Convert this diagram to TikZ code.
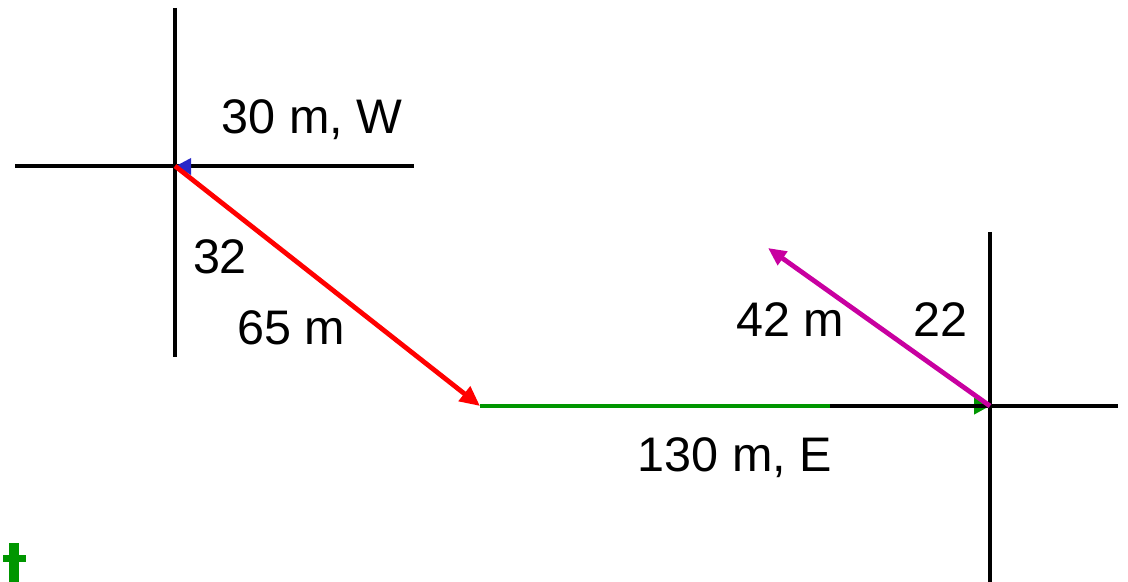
\documentclass[tikz,border=0pt]{standalone}
\usepackage{fontspec}
\setmainfont{Liberation Sans}
\usetikzlibrary{arrows.meta}
\definecolor{myred}{RGB}{255,0,0}
\definecolor{mygreen}{RGB}{0,150,0}
\definecolor{mymag}{RGB}{200,0,160}
\definecolor{myblue}{RGB}{40,40,200}
\tikzset{
  axis/.style={line width=0.12cm, black},
  vec/.style={line width=0.12cm},
  lbl/.style={font=\fontsize{34.5pt}{38pt}\selectfont, inner sep=0pt},
}
\begin{document}
\begin{tikzpicture}[x=0.025cm, y=-0.025cm]
\useasboundingbox (0,0) rectangle (1128,582);
% coordinates
\coordinate (O1) at (175,166);
\coordinate (P) at (480,406);
\coordinate (O2) at (990,406);
\coordinate (M) at (768,248);
\coordinate (Wend) at (414,166);
\coordinate (Wleft) at (15,166);
\coordinate (V1t) at (175,8);
\coordinate (V1b) at (175,357);
\coordinate (H2l) at (830,406);
\coordinate (H2r) at (1118,406);
\coordinate (V2t) at (990,232);
\coordinate (V2b) at (990,582);
% green vector
\draw[vec, mygreen, -{Triangle[length=0.4cm,width=0.4cm]}] (P) -- (O2);
% axes
\draw[axis] (V1t) -- (V1b);
\draw[axis] (Wleft) -- (Wend);
\draw[axis] (H2l) -- (H2r);
\draw[axis] (V2t) -- (V2b);
% blue tip of W vector
\fill[myblue] (176,166) -- (191,158) -- (191,175) -- cycle;
% red vector
\draw[vec, myred, -{Triangle[length=0.5cm,width=0.45cm]}] (O1) -- (P);
% magenta vector
\draw[vec, mymag, -{Triangle[length=0.45cm,width=0.4cm]}] (O2) -- (M);
% green partial glyph bottom-left
\fill[mygreen] (9,543) rectangle (19,582);
\fill[mygreen] (3,555) rectangle (26,562);
% labels
\node[lbl] (l1) at (312,120) {30 m, W};
\node[lbl] (l2) at (220,257) {32};
\node[lbl] (l3) at (291,328) {65 m};
\node[lbl] (l4) at (790,320) {42 m};
\node[lbl] (l5) at (940,320) {22};
\node[lbl] (l6) at (735,458) {130 m, E};
\end{tikzpicture}
\end{document}
